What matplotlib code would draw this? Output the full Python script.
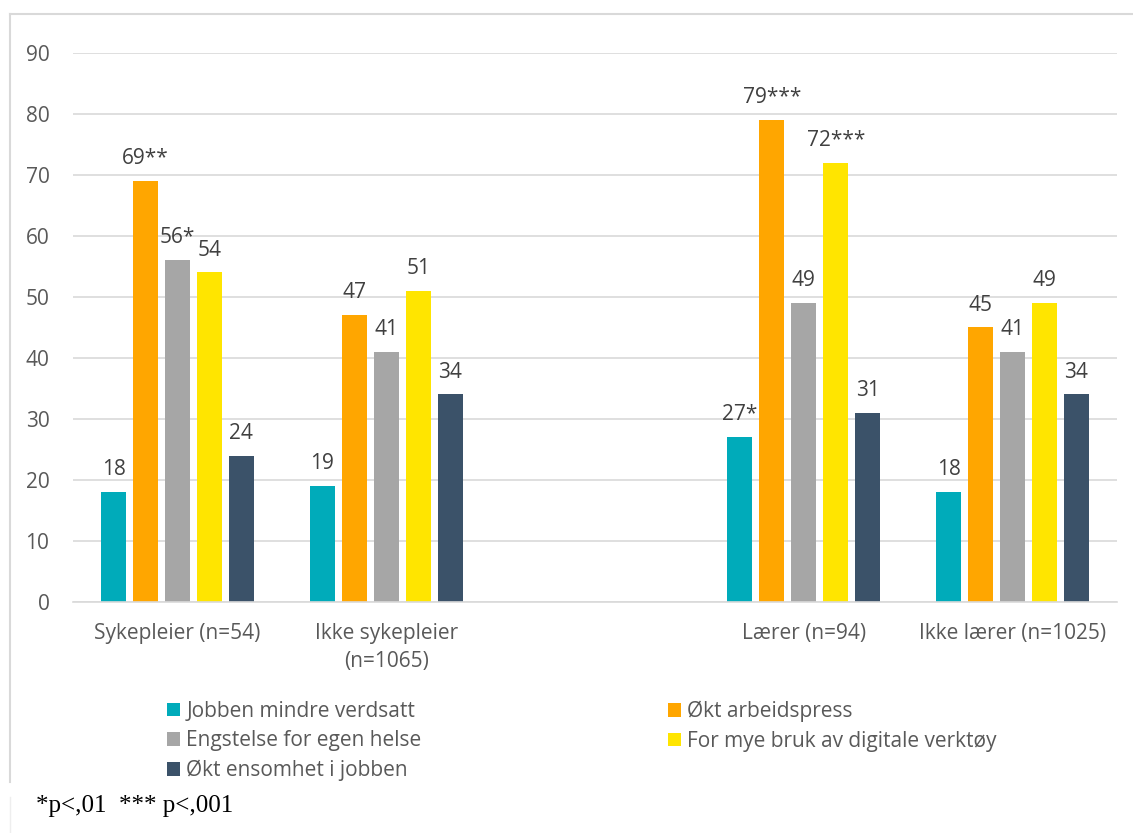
import matplotlib
matplotlib.use('Agg')
import matplotlib.pyplot as plt
from matplotlib.lines import Line2D
import numpy as np

categories = ['Sykepleier (n=54)', 'Ikke sykepleier\n(n=1065)', '', 'Lærer (n=94)', 'Ikke lærer (n=1025)']
series_names = ['Jobben mindre verdsatt', 'Økt arbeidspress', 'Engstelse for egen helse',
                'For mye bruk av digitale verktøy', 'Økt ensomhet i jobben']
jobben = [18, 19, np.nan, 27, 18]
arbeidspress = [69, 47, np.nan, 79, 45]
engstelse = [56, 41, np.nan, 49, 41]
digitale = [54, 51, np.nan, 72, 49]
ensomhet = [24, 34, np.nan, 31, 34]
lab_jobben = ['18', '19', '', '27*', '18']
lab_arbeidspress = ['69**', '47', '', '79***', '45']
lab_engstelse = ['56*', '41', '', '49', '41']
lab_digitale = ['54', '51', '', '72***', '49']
lab_ensomhet = ['24', '34', '', '31', '34']
colors = ['#00ABBA', '#FFA600', '#A6A6A6', '#FFE500', '#3B5269']
footnote = '*p<,01  *** p<,001'

series = [jobben, arbeidspress, engstelse, digitale, ensomhet]
labels = [lab_jobben, lab_arbeidspress, lab_engstelse, lab_digitale, lab_ensomhet]

plt.rcParams['font.family'] = ['Open Sans', 'DejaVu Sans']
W, H = 1133, 833
fig = plt.figure(figsize=(W / 100, H / 100), dpi=100)
ax = fig.add_axes([73 / W, (H - 602) / H, (1117 - 73) / W, (602 - 52.7) / H])

x = np.arange(len(categories))
bw = 0.12
pitch = 0.153
FS = 15
handles = []
for i, (vals, labs, col, name) in enumerate(zip(series, labels, colors, series_names)):
    pos = x + (i - 2) * pitch
    bars = ax.bar(pos, vals, width=bw, color=col, zorder=3, label=name)
    handles.append(bars)
    for p, v, l in zip(pos, vals, labs):
        if l:
            ax.annotate(l, (p, v), xytext=(0, 8.5), textcoords='offset points',
                        ha='center', va='bottom', fontsize=FS, color='#404040')

ax.set_xlim(-0.5, 4.5)
ax.set_ylim(0, 90)
ax.set_yticks(range(0, 91, 10))
ax.yaxis.grid(True, color='#D9D9D9', linewidth=1.2, zorder=0)
ax.set_axisbelow(True)
for s in ['left', 'right', 'top']:
    ax.spines[s].set_visible(False)
ax.spines['bottom'].set_color('#D9D9D9')
ax.spines['bottom'].set_linewidth(1.2)
ax.spines['bottom'].set_zorder(4)
ax.set_xticks(x)
ax.set_xticklabels(categories, linespacing=1.45)
ax.tick_params(axis='both', length=0, colors='#595959', labelsize=FS)
ax.tick_params(axis='y', pad=17)
ax.tick_params(axis='x', pad=15)

col1 = [handles[0], handles[2], handles[4]]
col1n = [series_names[0], series_names[2], series_names[4]]
col2 = [handles[1], handles[3]]
col2n = [series_names[1], series_names[3]]
leg_kw = dict(frameon=False, fontsize=FS, labelcolor='#595959', handlelength=0.62,
              handleheight=0.62, handletextpad=0.3, labelspacing=0.4, borderpad=0,
              borderaxespad=0, loc='upper left')
l1 = fig.legend(col1, col1n, bbox_to_anchor=(167 / W, (H - 701) / H), **leg_kw)
l2 = fig.legend(col2, col2n, bbox_to_anchor=(668 / W, (H - 701) / H), **leg_kw)

fig.text(36 / W, (H - 806) / H, footnote, family=['Liberation Serif', 'DejaVu Serif'],
         fontsize=18, color='black', va='center', ha='left')

fig.add_artist(Line2D([10 / W, 1.0], [(H - 13.5) / H] * 2, color='#D9D9D9', lw=1.5,
                      transform=fig.transFigure))
fig.add_artist(Line2D([10 / W] * 2, [(H - 13.5) / H, (H - 782) / H], color='#D9D9D9', lw=1.5,
                      transform=fig.transFigure))
fig.add_artist(Line2D([10 / W] * 2, [(H - 797) / H, 0], color='#EEEEEE', lw=1.0,
                      transform=fig.transFigure))

fig.savefig('out.png', dpi=100)
